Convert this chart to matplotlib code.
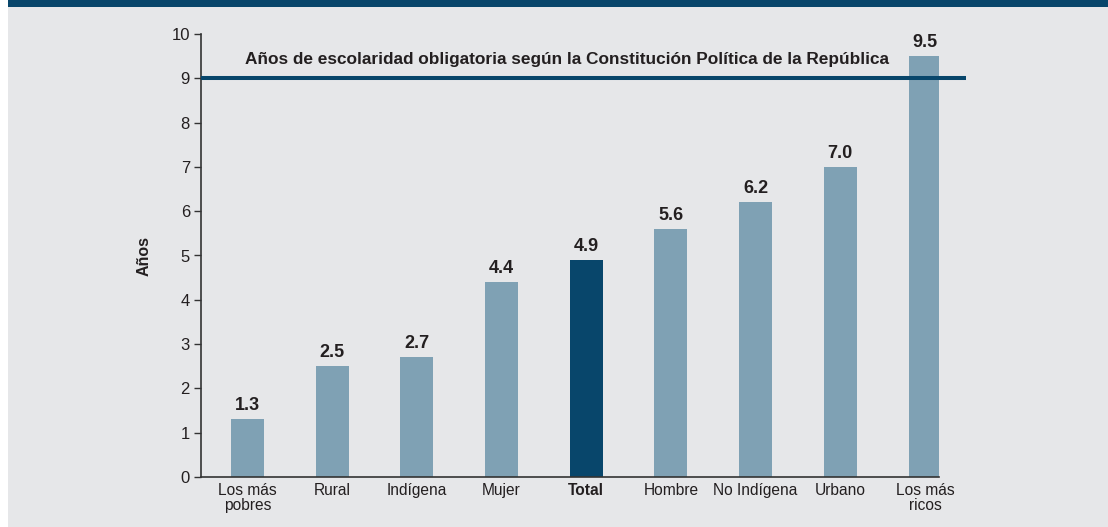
import matplotlib.pyplot as plt
from matplotlib.patches import Rectangle
import numpy as np

plt.rcParams['font.family'] = ['Liberation Sans', 'DejaVu Sans']

# data
categories = ['Los más\npobres', 'Rural', 'Indígena', 'Mujer', 'Total',
              'Hombre', 'No Indígena', 'Urbano', 'Los más\nricos']
years = [1.3, 2.5, 2.7, 4.4, 4.9, 5.6, 6.2, 7.0, 9.5]
highlight = 'Total'
mandatory_years = 9
mandatory_label = 'Años de escolaridad obligatoria según la Constitución Política de la República'

bg = '#E6E7E9'
dark = '#08466B'
light = '#7FA1B4'
txt = '#231F20'

fig = plt.figure(figsize=(11.08, 5.27), dpi=100)
fig.patch.set_facecolor('white')
# grey panel and top band
fig.patches.append(Rectangle((8 / 1108, 0), 1, 1, transform=fig.transFigure,
                             facecolor=bg, edgecolor='none', zorder=-2))
fig.patches.append(Rectangle((8 / 1108, 1 - 7 / 527), 1, 7 / 527, transform=fig.transFigure,
                             facecolor=dark, edgecolor='none', zorder=-1))

ax = fig.add_axes([201 / 1108, 50 / 527, 738 / 1108, 443 / 527])
ax.set_facecolor('none')

x = np.arange(len(categories))
colors = [dark if c.replace('\n', ' ') == highlight else light for c in categories]
bars = ax.bar(x, years, width=0.39, color=colors, zorder=2)

for xi, v in zip(x, years):
    ax.text(xi, v + 0.12, f'{v:.1f}', ha='center', va='bottom', fontsize=13,
            fontweight='bold', color=txt, zorder=3)

# mandatory schooling line
ax.plot([-0.55, 8.48], [mandatory_years, mandatory_years], color=dark, lw=2.9,
        clip_on=False, zorder=3, solid_capstyle='butt')
ax.text(3.77, 9.42, mandatory_label, ha='center', va='center', fontsize=12.4,
        fontweight='bold', color=txt)

ax.set_xlim(-0.55, 8.165)
ax.set_ylim(0, 10)
ax.set_yticks(range(0, 11))
ax.set_xticks(x)
ax.set_xticklabels(categories, fontsize=11.2, color=txt, linespacing=1.0)
for lbl in ax.get_xticklabels():
    if lbl.get_text() == highlight:
        lbl.set_fontweight('bold')
ax.tick_params(axis='x', length=0, pad=4)
ax.tick_params(axis='y', length=5, width=1, labelsize=12, labelcolor=txt, color='#333333', pad=3)
for s in ['top', 'right']:
    ax.spines[s].set_visible(False)
for s in ['left', 'bottom']:
    ax.spines[s].set_color('#333333')
    ax.spines[s].set_linewidth(1.2)

ax.set_ylabel('Años', fontsize=11.5, fontweight='bold', color=txt, labelpad=14)

fig.savefig('out.png', dpi=100, facecolor=fig.get_facecolor())
